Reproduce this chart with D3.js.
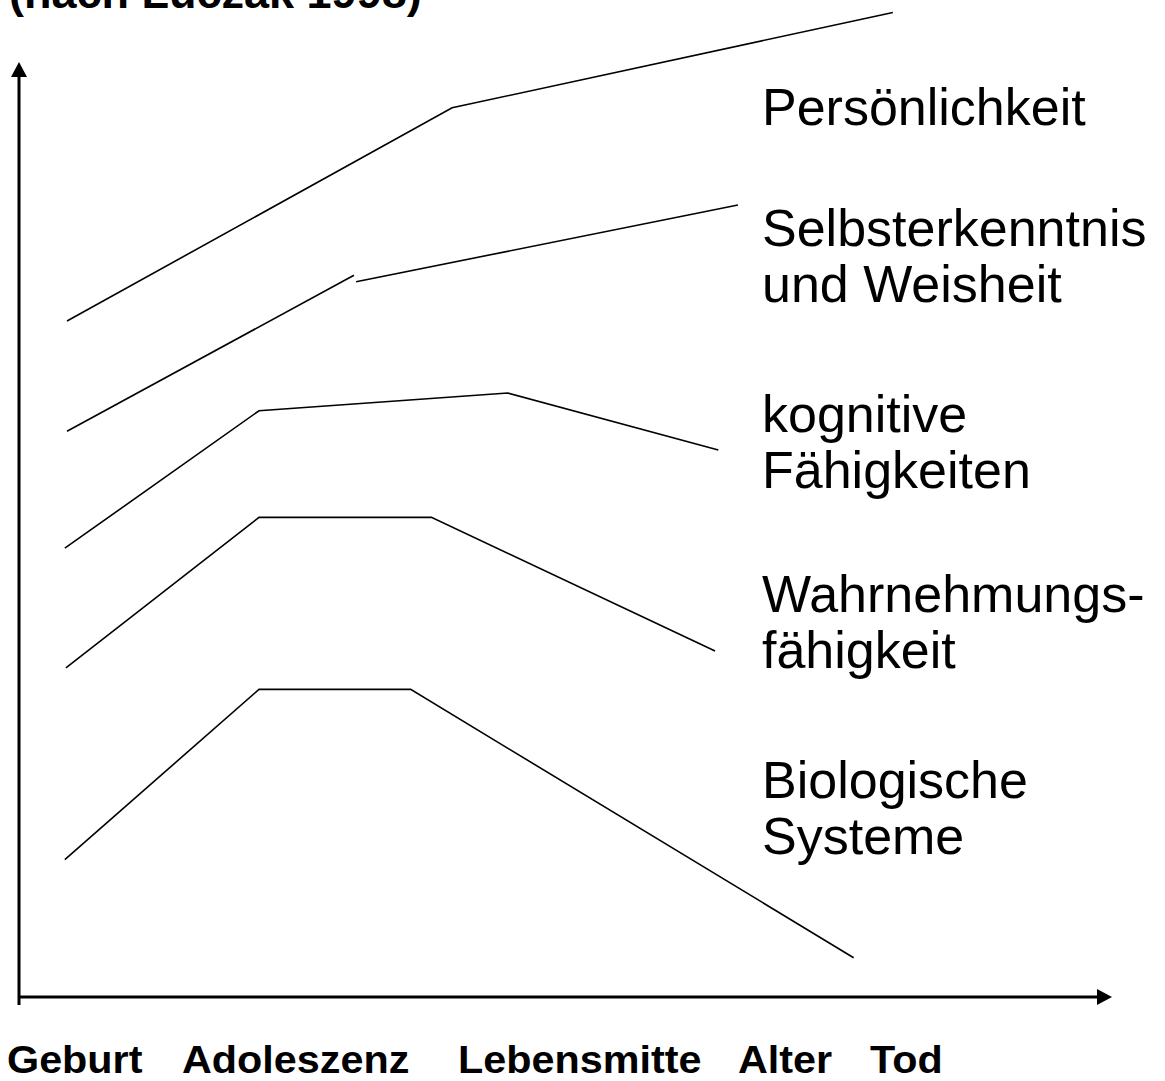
<!DOCTYPE html>
<html>
<head>
<meta charset="utf-8">
<script src="https://cdn.jsdelivr.net/npm/d3@7"></script>
<style>
html,body{margin:0;padding:0;background:#fff;}
svg{display:block;}
</style>
</head>
<body>
<svg id="chart" width="1165" height="1081"></svg>
<script>
// ---- data (x: life course 0..100, y: development level 0..100) ----
const title = "(nach Luczak 1998)";
const stageLabels = ["Geburt", "Adoleszenz", "Lebensmitte", "Alter", "Tod"];
const stageLabelX = [7, 182, 458, 738, 870];
const persoenlichkeit = [[4.4, 72.3], [39.7, 95.1], [80.1, 105.3]];
const selbsterkenntnisA = [[4.4, 60.5], [30.7, 77.2]];
const selbsterkenntnisB = [[30.9, 76.5], [65.9, 84.7]];
const kognitiv = [[4.2, 48.0], [22.0, 62.7], [44.8, 64.6], [64.1, 58.5]];
const wahrnehmung = [[4.3, 35.2], [22.0, 51.3], [37.8, 51.3], [63.8, 37.0]];
const biologisch = [[4.2, 14.7], [22.0, 32.9], [35.9, 32.9], [76.5, 4.2]];
const seriesLabels = [
  {lines: ["Persönlichkeit"], y: 93.3},
  {lines: ["Selbsterkenntnis", "und Weisheit"], y: 80.3},
  {lines: ["kognitive", "Fähigkeiten"], y: 60.4},
  {lines: ["Wahrnehmungs-", "fähigkeit"], y: 41.2},
  {lines: ["Biologische", "Systeme"], y: 21.3}
];

const svg = d3.select("#chart");
const x = d3.scaleLinear().domain([0, 100]).range([19, 1110]);
const y = d3.scaleLinear().domain([0, 100]).range([997, 62]);
const FONT = "'Liberation Sans', Arial, Helvetica, sans-serif";

// title (partially cut at top, as in the reference)
svg.append("text")
  .attr("x", 9).attr("y", 8)
  .attr("font-family", FONT).attr("font-weight", "bold")
  .attr("font-size", 45)
  .text(title);

// axes
svg.append("line")
  .attr("x1", x(0)).attr("x2", x(0))
  .attr("y1", y(0) + 8).attr("y2", y(100) + 12)
  .attr("stroke", "#000").attr("stroke-width", 3);
svg.append("path")
  .attr("d", `M${x(0)},${y(100)} L${x(0)-8},${y(100)+15} L${x(0)+8},${y(100)+15} Z`)
  .attr("fill", "#000");
svg.append("line")
  .attr("x1", x(0)).attr("x2", x(100) - 12)
  .attr("y1", y(0)).attr("y2", y(0))
  .attr("stroke", "#000").attr("stroke-width", 3);
svg.append("path")
  .attr("d", `M${x(100)+2},${y(0)} L${x(100)-13},${y(0)-8} L${x(100)-13},${y(0)+8} Z`)
  .attr("fill", "#000");

// series lines
const line = d3.line().x(d => x(d[0])).y(d => y(d[1]));
[persoenlichkeit, selbsterkenntnisA, selbsterkenntnisB, kognitiv, wahrnehmung, biologisch]
  .forEach(s => {
    svg.append("path").attr("d", line(s))
      .attr("fill", "none").attr("stroke", "#000").attr("stroke-width", 1.6);
  });

// series labels
seriesLabels.forEach(lb => {
  const t = svg.append("text")
    .attr("font-family", FONT).attr("font-size", 52)
    .attr("x", 762).attr("y", y(lb.y));
  lb.lines.forEach((l, i) => {
    t.append("tspan").attr("x", 762).attr("dy", i === 0 ? 0 : 56).text(l);
  });
});

// stage labels
svg.selectAll(".stage").data(stageLabels).enter().append("text")
  .attr("class", "stage")
  .attr("x", (d, i) => stageLabelX[i])
  .attr("y", 1073)
  .attr("font-family", FONT).attr("font-weight", "bold")
  .attr("font-size", 39)
  .attr("transform", (d, i) => `translate(${stageLabelX[i]},0) scale(1.06,1) translate(${-stageLabelX[i]},0)`)
  .text(d => d);
</script>
</body>
</html>
